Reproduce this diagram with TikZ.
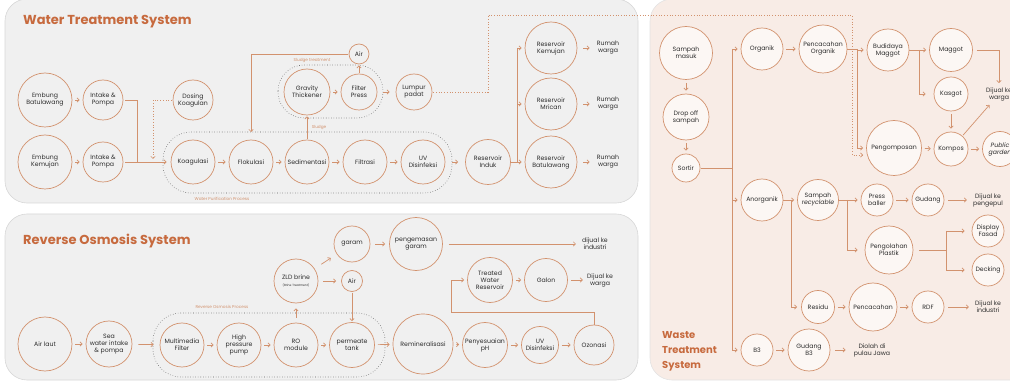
\documentclass[tikz,border=0pt]{standalone}
\usepackage{fontspec}
\setmainfont{Poppins}
\usetikzlibrary{arrows.meta}

\definecolor{rust}{RGB}{210,146,110}
\definecolor{rusttitle}{RGB}{199,106,62}
\definecolor{panelgray}{RGB}{240,240,240}
\definecolor{panelline}{RGB}{215,215,215}
\definecolor{wastebg}{RGB}{248,236,230}
\definecolor{wastefill}{RGB}{252,247,244}
\definecolor{ink}{RGB}{45,45,45}
\definecolor{dotgray}{RGB}{90,90,90}

\newcommand{\procfont}{\fontsize{6.2}{7}\selectfont}
\newcommand{\capfont}{\fontsize{4.2}{5}\selectfont}

\begin{document}
\begin{tikzpicture}[x=1pt, y=-1pt, >={Straight Barb[length=2.2pt,width=4.4pt]},
  proc/.style={circle, draw=rust, line width=0.7pt, inner sep=0pt, align=center, text=ink, font=\procfont},
  wproc/.style={proc, fill=wastefill},
  lbl/.style={inner sep=1pt, align=center, text=ink, font=\procfont},
  arr/.style={->, draw=rust, line width=0.7pt, shorten >=3pt, shorten <=3pt},
  ln/.style={draw=rust, line width=0.7pt},
  darr/.style={->, draw=rust, line width=0.7pt, dotted},
  zonecap/.style={text=rust, font=\capfont, inner sep=0pt},
  ttl/.style={text=rusttitle, font=\fontsize{13}{15}\selectfont\bfseries, inner sep=0pt, anchor=west, align=left},
  zone/.style={draw=dotgray, line width=0.55pt, dotted, rounded corners=28pt}]

\useasboundingbox (0,0) rectangle (1010,382);

% Background panels
\filldraw [fill=panelgray, draw=panelline, line width=0.6pt, rounded corners=22pt] (5,-1) rectangle (638,203);
\filldraw [fill=panelgray, draw=panelline, line width=0.6pt, rounded corners=22pt] (5,214) rectangle (638,380);
\filldraw [fill=wastebg, draw=panelline!70, line width=0.6pt, rounded corners=22pt] (650,-1) rectangle (1034,380);

% Titles
\node [ttl] (tWater) at (23,22) {Water Treatment System};
\node [ttl] (tRO) at (23,241) {Reverse Osmosis System};
\node [ttl, font=\fontsize{10}{15}\selectfont\bfseries] (tWaste) at (662,351) {Waste\\Treatment\\System};

% Water treatment nodes
\node [proc, minimum size=54pt] (embB) at (45,100) {Embung\\Batulawang};
\node [proc, minimum size=54pt] (embK) at (45,162) {Embung\\Kemujan};
\node [proc, minimum size=40pt] (intkB) at (103,100) {Intake \&\\Pompa};
\node [proc, minimum size=40pt] (intkK) at (103,162) {Intake \&\\Pompa};
\node [proc, minimum size=40pt] (dosing) at (193,100) {Dosing\\Koagulan};
\node [proc, minimum size=44pt] (koag) at (193,162) {Koagulasi};
\node [proc, minimum size=44pt] (flok) at (251,162) {Flokulasi};
\node [proc, minimum size=44pt] (sedi) at (307,162) {Sedimentasi};
\node [proc, minimum size=44pt] (filt) at (365,162) {Filtrasi};
\node [proc, minimum size=44pt] (uvW) at (423,162) {UV\\Disinfeksi};
\node [proc, minimum size=45pt] (resInd) at (488,162) {Reservoir\\Induk};
\node [proc, minimum size=46pt] (gravity) at (307,92) {Gravity\\Thickener};
\node [proc, minimum size=36pt] (fpress) at (359,92) {Filter\\Press};
\node [proc, minimum size=20pt] (airW) at (359,54) {Air};
\node [proc, minimum size=36pt] (lumpur) at (414,92) {Lumpur\\padat};
\node [proc, minimum size=52pt] (resKem) at (551,48) {Reservoir\\Kemujan};
\node [proc, minimum size=52pt] (resMri) at (551,104) {Reservoir\\Mrican};
\node [proc, minimum size=52pt] (resBat) at (551,162) {Reservoir\\Batulawang};
\foreach \i/\y in {1/48, 2/104, 3/162}
  \node [lbl] (rumah\i) at (608,\y) {Rumah\\warga};

% Process zones and their captions
\draw [zone] (163,132) rectangle (452,193);
\draw [zone, rounded corners=26pt] (278,65) rectangle (383,118);
\node [zonecap] (capWP) at (222,199) {Water Purification Process};
\node [zonecap] (capST) at (312,61) {Sludge treatment};
\node [zonecap] (capSl) at (319,128) {Sludge};

% Water treatment connectors
\foreach \a/\b in {embB/intkB, embK/intkK, koag/flok, flok/sedi, sedi/filt, filt/uvW, gravity/fpress}
  \draw [arr] (\a) -- (\b);
\coordinate (jIntk) at (137,162);
\draw [ln, shorten <=2pt] (intkB.east) -| (jIntk);
\draw [arr, shorten <=2pt, shorten >=4pt] (intkK) -- (koag);
\coordinate (jDos) at (153,159);
\draw [darr, shorten <=1pt] (dosing.west) -| (jDos);
\draw [arr, shorten <=7pt, shorten >=7pt] (uvW) -- (resInd);
\draw [arr, shorten <=1pt, shorten >=1pt] (sedi) -- (gravity);
\draw [arr, shorten <=1pt, shorten >=1pt] (fpress) -- (airW);
\draw [arr, shorten <=6pt, shorten >=6pt] (fpress) -- (lumpur);
\coordinate (jAir) at (251,132);
\draw [arr, shorten <=1pt, shorten >=0pt] (airW.west) -| (jAir);
\coordinate (jRes) at (517,162);
\draw [ln] (resInd.east) -- (jRes);
\draw [ln] (jRes |- resKem) -- (jRes |- resBat);
\foreach \r in {resKem, resMri, resBat}
  \draw [arr, shorten <=0pt] (jRes |- \r) -- (\r);
\foreach \i/\r in {1/resKem, 2/resMri, 3/resBat}
  \draw [arr, shorten <=6pt, shorten >=6pt] (\r) -- (rumah\i);

% Reverse osmosis nodes
\node [proc, minimum size=54pt] (airLaut) at (45,344) {Air laut};
\node [proc, minimum size=46pt] (seaIn) at (109,344) {Sea\\water intake\\\& pompa};
\node [proc, minimum size=44pt] (mmf) at (182,345) {Multimedia\\Filter};
\node [proc, minimum size=44pt] (hpp) at (239,345) {High\\pressure\\pump};
\node [proc, minimum size=44pt] (romod) at (296,345) {RO\\module};
\node [proc, minimum size=44pt] (zld) at (296,281) {ZLD brine\\{\fontsize{3}{4}\selectfont (Brine Treatment)}};
\node [proc, minimum size=36pt] (garam) at (352,244) {garam};
\node [proc, minimum size=21pt] (airRO) at (352,281) {Air};
\node [proc, minimum size=53pt] (pengemas) at (416,244) {pengemasan\\garam};
\node [lbl] (jualInd) at (595,244) {dijual ke\\industri};
\node [proc, minimum size=45pt] (perm) at (352,345) {permeate\\tank};
\node [proc, minimum size=60pt] (remin) at (423,344) {Remineralisasi};
\node [proc, minimum size=45pt] (phAdj) at (485,345) {Penyesuaian\\pH};
\node [proc, minimum size=37pt] (uvRO) at (540,345) {UV\\Disinfeksi};
\node [proc, minimum size=40pt] (ozon) at (594,345) {Ozonasi};
\node [proc, minimum size=45pt] (treated) at (490,280) {Treated\\Water\\Reservoir};
\node [proc, minimum size=43pt] (galon) at (546,280) {Galon};
\node [lbl] (jualWarga) at (600,280) {Dijual ke\\warga};

\draw [zone] (153,313) rectangle (385,377);
\node [zonecap] (capRO) at (222,307) {Reverse Osmosis Process};

% Reverse osmosis connectors
\foreach \a/\b in {airLaut/seaIn, mmf/hpp, hpp/romod, romod/perm, perm/remin, remin/phAdj, phAdj/uvRO, uvRO/ozon, treated/galon, galon/jualWarga}
  \draw [arr] (\a) -- (\b);
\draw [arr, shorten <=6pt, shorten >=6pt] (seaIn) -- (mmf);
\draw [arr, shorten <=5pt, shorten >=5pt] (romod) -- (zld);
\draw [arr, shorten <=8pt, shorten >=7pt] (zld) -- (garam);
\draw [arr, shorten <=5pt, shorten >=5pt] (zld) -- (airRO);
\draw [arr, shorten <=5pt, shorten >=4pt] (garam) -- (pengemas);
\draw [arr, shorten <=1pt, shorten >=1pt] (airRO) -- (perm);
\draw [arr, shorten <=6pt, shorten >=5pt] (pengemas) -- (jualInd);
\coordinate (jOz) at (451,312);
\draw [arr, shorten <=0pt] (ozon.north) |- (jOz) |- (treated.west);

% Waste treatment nodes
\node [wproc, minimum size=53pt] (sampah) at (686,53) {Sampah\\masuk};
\node [wproc, minimum size=46pt] (dropoff) at (686,117) {Drop off\\sampah};
\node [wproc, minimum size=28pt] (sortir) at (686,168) {Sortir};
\node [wproc, minimum size=42pt] (organik) at (762,49) {Organik};
\node [wproc, minimum size=48pt] (pencOrg) at (823,49) {Pencacahan\\Organik};
\node [wproc, minimum size=42pt] (budidaya) at (888,50) {Budidaya\\Maggot};
\node [wproc, minimum size=43pt] (maggot) at (951,50) {Maggot};
\node [wproc, minimum size=34pt] (kasgot) at (951,94) {Kasgot};
\node [wproc, minimum size=55pt] (pengomp) at (894,148) {Pengomposan};
\node [wproc, minimum size=34pt] (kompos) at (951,149) {Kompos};
\node [wproc, minimum size=35pt, font=\procfont\itshape] (garden) at (1000,149) {Public\\garden};
\node [lbl] (jualWarga2) at (999,94) {Dijual ke\\warga};
\node [wproc, minimum size=42pt] (anorg) at (762,200) {Anorganik};
\node [wproc, minimum size=41pt] (recyc) at (818,200) {Sampah\\\itshape recyclable};
\node [wproc, minimum size=32pt] (press) at (877,200) {Press\\baller};
\node [wproc, minimum size=32pt] (gudang) at (928,200) {Gudang};
\node [lbl] (jualPeng) at (988,200) {Dijual ke\\pengepul};
\node [wproc, minimum size=48pt] (olah) at (889,250) {Pengolahan\\Plastik};
\node [wproc, minimum size=32pt] (display) at (988,231) {Display\\Fasad};
\node [wproc, minimum size=32pt] (decking) at (988,270) {Decking};
\node [wproc, minimum size=33pt] (residu) at (818,307) {Residu};
\node [wproc, minimum size=48pt] (pencacah) at (873,307) {Pencacahan};
\node [wproc, minimum size=32pt] (rdf) at (928,307) {RDF};
\node [lbl] (jualInd2) at (988,307) {Dijual ke\\industri};
\node [wproc, minimum size=32pt] (bthree) at (757,350) {B3};
\node [wproc, minimum size=42pt] (gudangB) at (809,350) {Gudang\\B3};
\node [lbl] (diolah) at (872,350) {Diolah di\\pulau Jawa};

% Waste treatment connectors
\foreach \a/\b in {sampah/dropoff, dropoff/sortir, organik/pencOrg, pengomp/kompos, kompos/garden, kasgot/kompos, press/gudang, residu/pencacah, pencacah/rdf, bthree/gudangB}
  \draw [arr] (\a) -- (\b);
\foreach \a/\b in {gudang/jualPeng, rdf/jualInd2}
  \draw [arr, shorten <=4pt, shorten >=5pt] (\a) -- (\b);
\draw [arr, shorten <=5pt, shorten >=7pt] (gudangB) -- (diolah);
\coordinate (jSort) at (732,168);
\draw [ln, shorten <=1pt] (sortir.east) -- (jSort);
\draw [ln] (jSort |- organik) -- (jSort |- bthree);
\foreach \r in {organik, anorg, bthree}
  \draw [arr, shorten <=0pt] (jSort |- \r) -- (\r);
\coordinate (jOrg) at (857,49);
\draw [ln] (pencOrg.east) -- (jOrg);
\draw [ln] (jOrg) -- (jOrg |- pengomp);
\draw [arr, shorten <=0pt] (jOrg |- budidaya) -- (budidaya);
\draw [arr, shorten <=0pt] (jOrg |- pengomp) -- (pengomp);
\coordinate (jBud) at (919,50);
\draw [ln] (budidaya.east) -- (jBud);
\draw [ln] (jBud) -- (jBud |- kasgot);
\draw [arr, shorten <=0pt] (jBud) -- (maggot);
\draw [arr, shorten <=0pt, shorten >=8pt] (jBud |- kasgot) -- (kasgot);
\draw [arr, shorten <=4pt] (maggot.east) -| (jualWarga2.north);
\draw [arr, shorten <=1pt, shorten >=4pt] (kompos) -- (jualWarga2);
\coordinate (jAno) at (791,200);
\draw [ln] (anorg.east) -- (jAno);
\draw [ln] (jAno) -- (jAno |- residu);
\draw [arr, shorten <=0pt] (jAno) -- (recyc);
\draw [arr, shorten <=0pt, shorten >=4pt] (jAno |- residu) -- (residu);
\coordinate (jRec) at (847,200);
\draw [ln] (recyc.east) -- (jRec);
\draw [ln] (jRec) -- (jRec |- olah);
\draw [arr, shorten <=0pt] (jRec) -- (press);
\draw [arr, shorten <=0pt, shorten >=7pt] (jRec |- olah) -- (olah);
\coordinate (jOlah) at (946,250);
\draw [ln, shorten <=6pt] (olah.east) -- (jOlah);
\draw [ln] (jOlah |- display) -- (jOlah |- decking);
\foreach \r in {display, decking}
  \draw [arr, shorten <=0pt, shorten >=7pt] (jOlah |- \r) -- (\r);

% Dotted link from the sludge to composting
\coordinate (dotA) at (488,15);
\coordinate (dotB) at (852,15);
\draw [darr, shorten <=1pt, shorten >=3pt] (lumpur.east) -| (dotA) -- (dotB) |- ([yshift=-7pt]pengomp.west);

\end{tikzpicture}
\end{document}
